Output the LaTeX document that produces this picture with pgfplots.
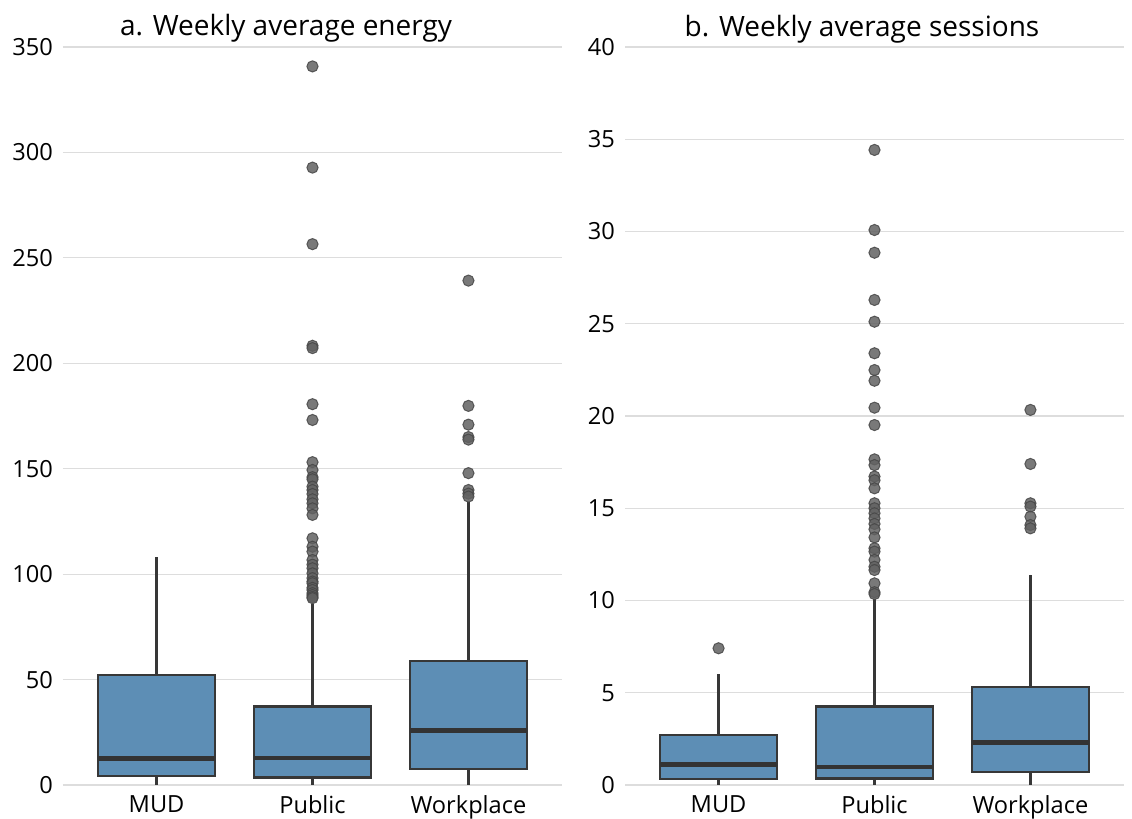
\documentclass[border=0pt]{standalone}
\usepackage{pgfplots}
\pgfplotsset{compat=1.18}
\usepgfplotslibrary{statistics}
\usepackage{fontspec}
\setmainfont{Open Sans}
\definecolor{boxc}{RGB}{93,142,181}
\definecolor{edgec}{RGB}{55,55,55}
\definecolor{gridc}{RGB}{221,221,221}
\pgfplotsset{
 myaxis/.style={
  scale only axis, width=249.5pt, height=369pt,
  xmin=-0.6, xmax=2.6, ymin=0,
  xtick={0,1,2}, xticklabels={MUD,Public,Workplace},
  axis line style={draw=none}, major tick length=0pt,
  ymajorgrids, grid style={line width=0.6pt, draw=gridc},
  tick label style={font=\fontsize{11.8}{14}\selectfont, text=black},
  /pgf/number format/assume math mode=true,
  yticklabel style={xshift=-1.5pt},
  xticklabel style={yshift=-2pt},
  title style={font=\fontsize{14}{16}\selectfont, anchor=base, yshift=-0.5pt},
  clip=false,
  boxplot/draw direction=y,
 },
 mybox/.style={draw=edgec, line width=1.4pt, fill=boxc, solid},
 outl/.style={only marks, mark=*, mark size=2.8pt, mark options={draw=black!72, fill=black!62, line width=0.5pt, opacity=0.85}},
}
\begin{document}
\begin{tikzpicture}
\useasboundingbox (-31.5pt,-17pt) rectangle (534.5pt,392.5pt);
\begin{axis}[myaxis, at={(0pt,0pt)}, anchor=south west,
  ymax=350, ytick={0,50,...,350},
  title={a. Weekly average energy}, title style={at={(0.447,1)}}]
\addplot[mybox, boxplot prepared={draw position=0, lower whisker=0, lower quartile=4.3, median=12.7, upper quartile=52.2, upper whisker=108, box extend=0.75, whisker extend=0, every median/.style={line width=2.3pt, draw=black!80}}] coordinates {};
\addplot[mybox, boxplot prepared={draw position=1, lower whisker=0, lower quartile=3.5, median=12.8, upper quartile=37.1, upper whisker=86, box extend=0.75, whisker extend=0, every median/.style={line width=2.3pt, draw=black!80}}] coordinates {};
\addplot[mybox, boxplot prepared={draw position=2, lower whisker=0, lower quartile=7.6, median=25.8, upper quartile=58.8, upper whisker=134, box extend=0.75, whisker extend=0, every median/.style={line width=2.3pt, draw=black!80}}] coordinates {};
\addplot[outl] coordinates {(1,340.8) (1,292.8) (1,256.5) (1,208.3) (1,207.2) (1,180.6) (1,173.1) (1,153.1) (1,149.4) (1,146.0) (1,145.0) (1,141.5) (1,139.9) (1,138.0) (1,135.5) (1,133.6) (1,131.2) (1,128.1) (1,117.0) (1,113.0) (1,110.7) (1,106.7) (1,104.5) (1,102.8) (1,100.4) (1,98.1) (1,96.5) (1,95.7) (1,93.5) (1,92.5) (1,91.0) (1,90.1) (1,89.2) (1,88.6)};
\addplot[outl] coordinates {(2,239.2) (2,179.8) (2,170.9) (2,165.0) (2,163.8) (2,147.9) (2,139.9) (2,138.2) (2,136.8)};
\end{axis}
\begin{axis}[myaxis, at={(281pt,0pt)}, anchor=south west,
  ymax=40, ytick={0,5,...,40},
  title={b. Weekly average sessions}, title style={at={(0.475,1)}}]
\addplot[mybox, boxplot prepared={draw position=0, lower whisker=0, lower quartile=0.33, median=1.12, upper quartile=2.71, upper whisker=6.0, box extend=0.75, whisker extend=0, every median/.style={line width=2.3pt, draw=black!80}}] coordinates {};
\addplot[mybox, boxplot prepared={draw position=1, lower whisker=0, lower quartile=0.36, median=0.98, upper quartile=4.25, upper whisker=10.1, box extend=0.75, whisker extend=0, every median/.style={line width=2.3pt, draw=black!80}}] coordinates {};
\addplot[mybox, boxplot prepared={draw position=2, lower whisker=0, lower quartile=0.70, median=2.29, upper quartile=5.31, upper whisker=11.4, box extend=0.75, whisker extend=0, every median/.style={line width=2.3pt, draw=black!80}}] coordinates {};
\addplot[outl] coordinates {(0,7.41)};
\addplot[outl] coordinates {(1,34.42) (1,30.08) (1,28.85) (1,26.29) (1,25.11) (1,23.40) (1,22.49) (1,21.91) (1,20.45) (1,19.51) (1,17.65) (1,17.34) (1,16.72) (1,16.52) (1,16.08) (1,15.27) (1,15.0) (1,14.73) (1,14.45) (1,14.15) (1,13.86) (1,13.42) (1,12.83) (1,12.65) (1,12.2) (1,11.83) (1,11.65) (1,10.93) (1,10.45) (1,10.35)};
\addplot[outl] coordinates {(2,20.33) (2,17.40) (2,15.27) (2,15.09) (2,14.54) (2,14.09) (2,13.91)};
\end{axis}
\end{tikzpicture}
\end{document}
